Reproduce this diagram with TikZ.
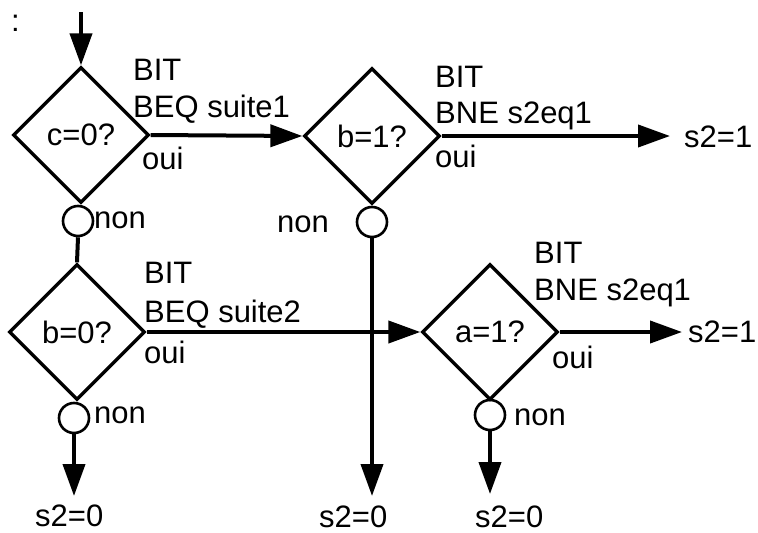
\documentclass[tikz,border=0pt]{standalone}
\usepackage{fontspec}
\setmainfont{Liberation Sans}
\usetikzlibrary{shapes.geometric,arrows.meta}
\begin{document}
\begin{tikzpicture}[x=1pt,y=-1pt,
  every node/.style={font=\fontsize{31}{37}\selectfont},
  test/.style={shape=diamond,draw,line width=3.3pt,aspect=1,inner sep=0pt,
    minimum width=136pt,minimum height=136pt},
  exitring/.style={shape=circle,draw,line width=2.6pt,inner sep=0pt,minimum size=30pt},
  lbl/.style={anchor=base west,inner sep=0pt},
  flow/.style={line width=4pt,-{Triangle[length=32pt,width=22pt]}},
  link/.style={line width=4pt}]
\useasboundingbox (0,0) rectangle (758,533);

% decision boxes
\node[test] (d1) at (81,135) {c=0?};
\node[test] (d3) at (372,136) {b=1?};
\node[test] (d2) at (77,332) {b=0?};
\node[test] (d4) at (490,332) {a=1?};

% "non" exits
\node[exitring] (c1) at (78,221) {};
\node[exitring] (c3) at (372,222) {};
\node[exitring] (c2) at (74,418) {};
\node[exitring] (c4) at (490,415) {};

% free ends of the connectors
\coordinate (e0) at (81,12);
\coordinate (o3) at (670,136);
\coordinate (o4) at (682,332);
\coordinate (z2) at (74,496);
\coordinate (z3) at (372,496);
\coordinate (z4) at (490,494);

% results
\node[lbl] (r3) at (684,147) {s2=1};
\node[lbl] (r4) at (688,342) {s2=1};
\node[lbl] (s2) at (35,526) {s2=0};
\node[lbl] (s3) at (319,527) {s2=0};
\node[lbl] (s4) at (475,527) {s2=0};

% branch annotations
\node[lbl] (a1) at (133,80) {BIT};
\node[lbl] (b1) at (133,117) {BEQ suite1};
\node[lbl] (y1) at (142,169) {oui};
\node[lbl] (a3) at (435,87) {BIT};
\node[lbl] (b3) at (435,123) {BNE s2eq1};
\node[lbl] (y3) at (435,167) {oui};
\node[lbl] (a2) at (144,283) {BIT};
\node[lbl] (b2) at (144,322) {BEQ suite2};
\node[lbl] (y2) at (144,363) {oui};
\node[lbl] (a4) at (534,263) {BIT};
\node[lbl] (b4) at (534,300) {BNE s2eq1};
\node[lbl] (y4) at (552,368) {oui};
\node[lbl] (n1) at (94,228) {non};
\node[lbl] (n3) at (277,232) {non};
\node[lbl] (n2) at (94,423) {non};
\node[lbl] (n4) at (514,425) {non};
\node[lbl] (hd) at (11,31) {:};

% connectors
\draw[flow] (e0) -- (d1.north);
\draw[flow] (d1.east) -- (d3.west);
\draw[flow] (d3.east) -- (o3);
\draw[link] (c1.south) -- (d2.north);
\draw[flow] (d2.east) -- (d4.west);
\draw[flow] (d4.east) -- (o4);
\draw[flow] (c2.south) -- (z2);
\draw[flow] (c3.south) -- (z3);
\draw[flow] (c4.south) -- (z4);
\end{tikzpicture}
\end{document}
